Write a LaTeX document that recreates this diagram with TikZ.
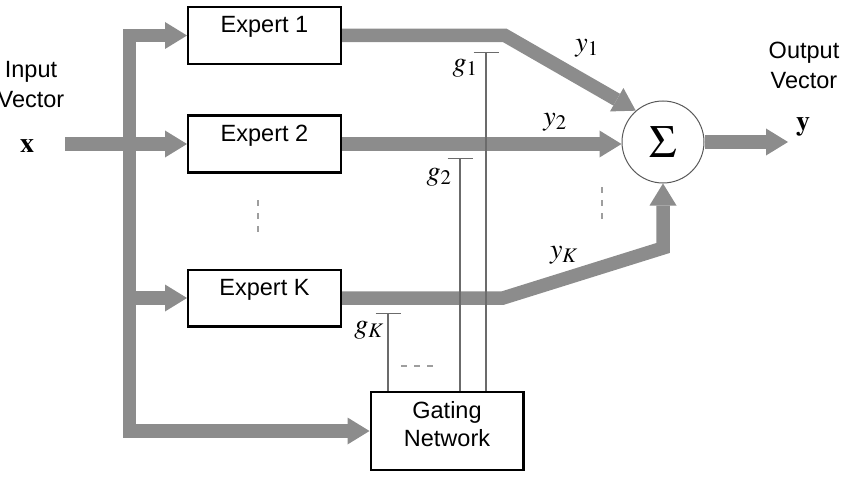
\documentclass[tikz,border=0pt]{standalone}
\usepackage{mathptmx}
\usepackage[no-math]{fontspec}
\setmainfont{Liberation Sans}
\usepackage{tikz}
\usetikzlibrary{arrows.meta}

\definecolor{pipegray}{gray}{0.55}
\definecolor{gategray}{gray}{0.42}
\definecolor{dashgray}{gray}{0.62}

\begin{document}
\begin{tikzpicture}[
  x=1pt,y=-1pt,
  font=\fontsize{23.5}{28}\selectfont,
  box/.style={draw, line width=2.4pt, inner xsep=4pt, inner ysep=9pt, minimum width=152.6pt},
  expert/.style={box, text height=16.8pt, text depth=21.8pt},
  pipe/.style={draw=pipegray, line width=13.5pt},
  feed/.style={pipe, -{Triangle[length=22pt,width=27pt,line width=0pt]}},
  gateline/.style={draw=gategray, line width=1.2pt, -{Bar[width=25pt]}},
  ellipsisdash/.style={draw=dashgray, line width=1.2pt, dash pattern=on 6pt off 7pt},
  side/.style={align=center, font=\fontsize{23.5}{30}\selectfont},
  sym/.style={font=\fontsize{28}{28}\selectfont, inner sep=1pt}
]
\useasboundingbox (0,0) rectangle (843,484);

% Experts and gate.
\node[expert] (expert1) at (264.5,35.5) {Expert 1};
\node[expert] (expert2) at (264.5,144) {Expert 2};
\node[expert] (expertK) at (264.5,298) {Expert K};
\node[box, align=center, text height=45pt, text depth=15pt] (gating) at (447,431) {Gating\\Network};
\node[draw=black!65, line width=1pt, circle, minimum size=82pt, inner sep=0pt, font=\fontsize{46}{46}\selectfont] (sigma) at (663,142) {$\Sigma$};

% Input and output labels.
\node[side] (input) at (31,84.5) {Input\\Vector};
\node[side] (output) at (804,65.4) {Output\\Vector};
\node[sym] (xin) at (27,146) {$\mathbf{x}$};
\node[sym] (yout) at (803,127) {$\mathbf{y}$};

\coordinate (in) at (65,144);
\coordinate (trunk) at (129.5,144);
\coordinate (bend1) at (505,35.5);
\coordinate (bendK) at (503,298);
\coordinate (riseK) at (663,248);
\coordinate (out) at (788,142);

% Fan-out of x.
\draw[feed] (in) -- (expert2.west);
\draw[feed] (trunk |- gating.west) |- (expert1.west);
\draw[feed] (trunk |- expert1.west) |- (gating.west);
\draw[feed] (trunk |- expertK.west) -- (expertK.west);

% Expert outputs into the sum.
\draw[feed] (expert1.east) -- (bend1) -- (sigma.131);
\draw[feed] (expert2.east) -- (expert2.east -| sigma.west);
\draw[feed] (expertK.east) -- (bendK) -- (riseK) -- (sigma.south);
\draw[feed] (sigma.east) -- (out);

% Gate values.
\coordinate (g1top) at (486,52);
\coordinate (g2top) at (460,158);
\coordinate (gKtop) at (388,313);
\draw[gateline] (gating.north -| g1top) -- (g1top);
\draw[gateline] (gating.north -| g2top) -- (g2top);
\draw[gateline] (gating.north -| gKtop) -- (gKtop);

\node[sym] (y1) at (587,48) {$y_1$};
\node[sym] (y2) at (555,122) {$y_2$};
\node[sym] (yK) at (564,255) {$y_K$};
\node[sym] (g1) at (465,68) {$g_1$};
\node[sym] (g2) at (439,177) {$g_2$};
\node[sym] (gK) at (369,330) {$g_K$};

% Elided experts.
\draw[ellipsisdash] (258,200) -- (258,232);
\draw[ellipsisdash] (602,187) -- (602,219);
\draw[ellipsisdash] (401,366) -- (433,366);
\end{tikzpicture}
\end{document}
